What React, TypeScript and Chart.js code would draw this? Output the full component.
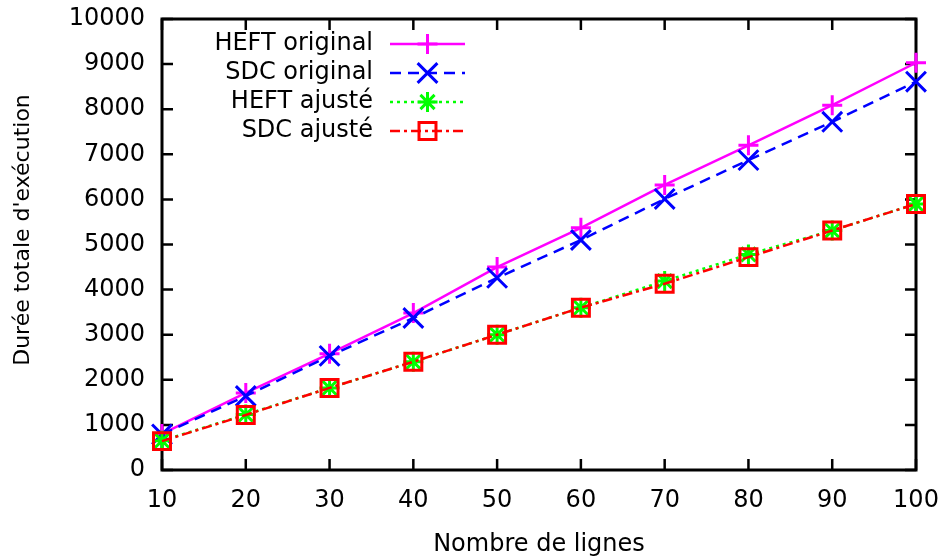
import React, { useEffect, useRef } from 'react';
import { Chart, registerables } from 'chart.js';
import { drawPoint } from 'chart.js/helpers';

Chart.register(...registerables);

const FONT = '"DejaVu Sans", sans-serif';
const FS = 24;

const lignes = [10, 20, 30, 40, 50, 60, 70, 80, 90, 100];
const heftOriginal = [800, 1710, 2580, 3480, 4500, 5370, 6320, 7200, 8090, 9030];
const sdcOriginal = [790, 1640, 2530, 3370, 4260, 5100, 6010, 6870, 7720, 8610];
const heftAjuste = [650, 1230, 1820, 2400, 3000, 3600, 4190, 4780, 5310, 5900];
const sdcAjuste = [640, 1220, 1820, 2400, 3000, 3600, 4130, 4720, 5310, 5900];

const seriesLabels = ['HEFT original', 'SDC original', 'HEFT ajusté', 'SDC ajusté'];
const xTitle = 'Nombre de lignes';
const yTitle = "Durée totale d'exécution";
const xTicks = [10, 20, 30, 40, 50, 60, 70, 80, 90, 100];
const yTicks = [0, 1000, 2000, 3000, 4000, 5000, 6000, 7000, 8000, 9000, 10000];

const toPoints = (ys: number[]) => ys.map((y, i) => ({ x: lignes[i], y }));

const framePlugin = {
  id: 'gnuFrame',
  beforeDatasetsDraw(chart: any) {
    const { ctx, chartArea } = chart;
    const { left, right, top, bottom } = chartArea;
    const xs = chart.scales.x;
    const ys = chart.scales.y;
    const len = 11;
    ctx.save();
    ctx.strokeStyle = '#000';
    ctx.lineWidth = 2.5;
    ctx.beginPath();
    yTicks.forEach((v) => {
      const py = ys.getPixelForValue(v);
      ctx.moveTo(left, py);
      ctx.lineTo(left + len, py);
      ctx.moveTo(right, py);
      ctx.lineTo(right - len, py);
    });
    xTicks.forEach((v) => {
      const px = xs.getPixelForValue(v);
      ctx.moveTo(px, bottom);
      ctx.lineTo(px, bottom - len);
      ctx.moveTo(px, top);
      ctx.lineTo(px, top + len);
    });
    ctx.stroke();
    ctx.lineWidth = 3;
    ctx.strokeRect(left, top, right - left, bottom - top);
    ctx.restore();
  },
};

const labelsPlugin = {
  id: 'gnuLabels',
  afterDraw(chart: any) {
    const { ctx, chartArea } = chart;
    ctx.save();
    ctx.font = `22px ${FONT}`;
    ctx.fillStyle = '#000';
    ctx.textAlign = 'center';
    ctx.textBaseline = 'middle';
    ctx.translate(23, 230);
    ctx.rotate(-Math.PI / 2);
    ctx.fillText(yTitle, 0, 0);
    ctx.restore();

    ctx.save();
    ctx.font = `${FS}px ${FONT}`;
    ctx.textAlign = 'right';
    ctx.textBaseline = 'middle';
    chart.data.datasets.forEach((ds: any, i: number) => {
      const y = chartArea.top + 25 + i * 29;
      const textRight = chartArea.left + 211;
      ctx.fillStyle = '#000';
      ctx.fillText(ds.label, textRight, y);
      const x0 = textRight + 17;
      const x1 = textRight + 92;
      ctx.strokeStyle = ds.borderColor;
      ctx.lineWidth = ds.borderWidth;
      ctx.setLineDash(ds.borderDash || []);
      ctx.beginPath();
      ctx.moveTo(x0, y);
      ctx.lineTo(x1, y);
      ctx.stroke();
      ctx.setLineDash([]);
      ctx.lineWidth = ds.pointBorderWidth;
      ctx.fillStyle = 'rgba(0,0,0,0)';
      drawPoint(
        ctx,
        { pointStyle: ds.pointStyle, radius: ds.pointRadius, rotation: 0, borderWidth: ds.pointBorderWidth } as any,
        (x0 + x1) / 2,
        y
      );
    });
    ctx.restore();
  },
};

export default function App() {
  const canvasRef = useRef<HTMLCanvasElement | null>(null);

  useEffect(() => {
    const canvas = canvasRef.current;
    if (!canvas) return;
    const common = {
      borderWidth: 2.5,
      pointBorderWidth: 3,
      pointBackgroundColor: 'rgba(0,0,0,0)',
      fill: false,
      tension: 0,
      clip: false as any,
    };
    const chart = new Chart(canvas, {
      type: 'line',
      data: {
        datasets: [
          {
            ...common,
            label: seriesLabels[0],
            data: toPoints(heftOriginal),
            borderColor: '#ff00ff',
            pointBorderColor: '#ff00ff',
            pointStyle: 'cross',
            pointRadius: 10,
            order: 4,
          },
          {
            ...common,
            label: seriesLabels[1],
            data: toPoints(sdcOriginal),
            borderColor: '#0000ff',
            pointBorderColor: '#0000ff',
            borderDash: [11, 7],
            pointStyle: 'crossRot',
            pointRadius: 14,
            order: 3,
          },
          {
            ...common,
            label: seriesLabels[2],
            data: toPoints(heftAjuste),
            borderColor: '#00ff00',
            pointBorderColor: '#00ff00',
            borderDash: [3, 4],
            pointStyle: 'star',
            pointRadius: 10,
            order: 2,
          },
          {
            ...common,
            label: seriesLabels[3],
            data: toPoints(sdcAjuste),
            borderColor: '#ff0000',
            pointBorderColor: '#ff0000',
            borderDash: [10, 4, 3, 4],
            pointStyle: 'rect',
            pointRadius: 12,
            order: 1,
          },
        ] as any,
      },
      options: {
        animation: false,
        responsive: true,
        maintainAspectRatio: false,
        layout: { padding: { top: 19, right: 27, left: 0, bottom: 0 } },
        plugins: {
          legend: { display: false },
          tooltip: { enabled: false },
        },
        scales: {
          x: {
            type: 'linear',
            min: 10,
            max: 100,
            afterBuildTicks: (s: any) => {
              s.ticks = xTicks.map((v) => ({ value: v }));
            },
            ticks: {
              font: { family: FONT, size: FS },
              color: '#000',
              padding: 16,
              maxRotation: 0,
              callback: (v: any) => String(v),
            },
            grid: { display: false, drawTicks: false },
            border: { display: false },
            title: {
              display: true,
              text: xTitle,
              color: '#000',
              font: { family: FONT, size: FS },
              padding: { top: 0, bottom: 0 },
            },
            afterFit: (s: any) => {
              s.height = 89;
              s.paddingLeft = 0;
              s.paddingRight = 0;
            },
          },
          y: {
            type: 'linear',
            min: 0,
            max: 10000,
            afterBuildTicks: (s: any) => {
              s.ticks = yTicks.map((v) => ({ value: v }));
            },
            ticks: {
              font: { family: FONT, size: FS },
              color: '#000',
              padding: 17,
              callback: (v: any) => String(v),
            },
            grid: { display: false, drawTicks: false },
            border: { display: false },
            afterFit: (s: any) => {
              s.width = 162;
              s.paddingTop = 0;
              s.paddingBottom = 0;
            },
          },
        },
      } as any,
      plugins: [framePlugin, labelsPlugin],
    });
    return () => chart.destroy();
  }, []);

  return (
    <div style={{ position: 'fixed', left: 0, top: 0, width: 943, height: 559, background: '#fff' }}>
      <canvas ref={canvasRef} />
    </div>
  );
}
